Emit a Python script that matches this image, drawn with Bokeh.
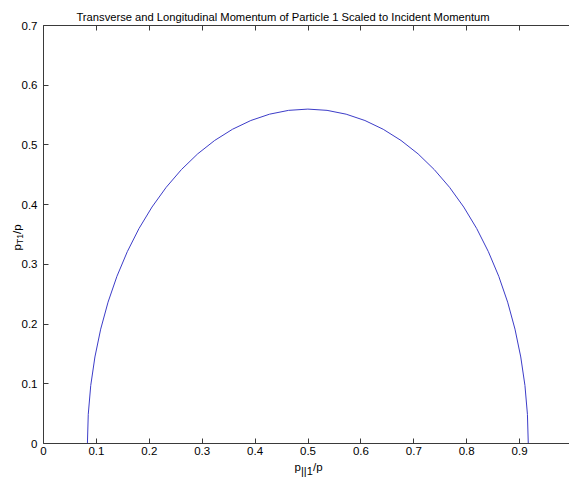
from bokeh.plotting import figure
from bokeh.models import Label, LinearAxis, FixedTicker, Range1d
from bokeh.embed import file_html
from bokeh.resources import INLINE

# Longitudinal momentum of particle 1 / p
p_par = [0.0830, 0.0846, 0.0893, 0.0972, 0.1081, 0.1220, 0.1388, 0.1584, 0.1805,
         0.2051, 0.2319, 0.2607, 0.2914, 0.3236, 0.3572, 0.3919, 0.4273, 0.4634,
         0.4997, 0.5360, 0.5721, 0.6076, 0.6422, 0.6758, 0.7081, 0.7387, 0.7676,
         0.7944, 0.8189, 0.8410, 0.8606, 0.8774, 0.8913, 0.9022, 0.9101, 0.9148,
         0.9164]
# Transverse momentum of particle 1 / p
p_trans = [0.0000, 0.0488, 0.0972, 0.1449, 0.1915, 0.2367, 0.2800, 0.3212, 0.3600,
           0.3960, 0.4290, 0.4587, 0.4850, 0.5075, 0.5262, 0.5409, 0.5515, 0.5579,
           0.5600, 0.5579, 0.5515, 0.5409, 0.5262, 0.5075, 0.4850, 0.4587, 0.4290,
           0.3960, 0.3600, 0.3212, 0.2800, 0.2367, 0.1915, 0.1449, 0.0972, 0.0488,
           0.0000]

x_ticks = [0.0, 0.1, 0.2, 0.3, 0.4, 0.5, 0.6, 0.7, 0.8, 0.9]
x_tick_labels = ["0", "0.1", "0.2", "0.3", "0.4", "0.5", "0.6", "0.7", "0.8", "0.9"]
y_ticks = [0.0, 0.1, 0.2, 0.3, 0.4, 0.5, 0.6, 0.7]
y_tick_labels = ["0", "0.1", "0.2", "0.3", "0.4", "0.5", "0.6", "0.7"]

title_text = "Transverse and Longitudinal Momentum of Particle 1 Scaled to Incident Momentum"

FONT = "Liberation Sans"
AX = "#3a3a3a"
TICK_FS = "11.5px"

W, H = 569, 482
# axes box in canvas pixels: x=0 at 43, 529 px per unit; y=0 at 443, 0.7 at 25
X0, XS = 43.0, 529.0
Y0, YS = 443.0, (443.0 - 25.0) / 0.7

x_lo, x_hi = -X0 / XS, (W - X0) / XS
y_lo, y_hi = -(H - Y0) / YS, Y0 / YS
box_right = x_hi

p = figure(width=W, height=H, output_backend="svg", toolbar_location=None,
           x_range=Range1d(x_lo, x_hi), y_range=Range1d(y_lo, y_hi),
           x_axis_location=None, y_axis_location=None,
           min_border=0, min_border_left=0, min_border_right=0,
           min_border_top=0, min_border_bottom=0)
p.title.visible = False
p.grid.visible = False
p.outline_line_color = None
p.background_fill_color = "white"
p.border_fill_color = "white"


def style(ax):
    ax.axis_line_color = AX
    ax.axis_line_width = 1
    ax.major_tick_line_color = AX
    ax.major_tick_in = 5
    ax.major_tick_out = 0
    ax.minor_tick_line_color = None
    ax.major_label_text_font = FONT
    ax.major_label_text_font_size = TICK_FS
    ax.major_label_text_color = "black"


xb = LinearAxis(ticker=FixedTicker(ticks=x_ticks), fixed_location=0.0,
                bounds=(0.0, box_right),
                major_label_overrides=dict(zip(x_ticks, x_tick_labels)))
style(xb)
xb.major_label_standoff = 3
p.add_layout(xb, "below")

xt = LinearAxis(ticker=FixedTicker(ticks=x_ticks), fixed_location=0.7,
                bounds=(0.0, box_right),
                major_label_overrides={t: "" for t in x_ticks})
style(xt)
xt.major_label_text_font_size = "1px"
xt.major_label_standoff = 0
p.add_layout(xt, "above")

yl = LinearAxis(ticker=FixedTicker(ticks=y_ticks), fixed_location=0.0,
                bounds=(0.0, 0.7),
                major_label_overrides=dict(zip(y_ticks, y_tick_labels)))
style(yl)
yl.major_label_standoff = 6
p.add_layout(yl, "left")

p.line(p_par, p_trans, line_color="#3c3cc8", line_width=1)


def lab(text, cx, cy, size, align="left", angle=0):
    # cx, cy: canvas pixels (from top-left); frame covers whole canvas
    p.add_layout(Label(x=cx, y=H - cy, x_units="screen", y_units="screen",
                       text=text, text_font=FONT, text_font_size=size,
                       text_color="black", text_align=align,
                       text_baseline="alphabetic", angle=angle,
                       angle_units="deg"))


# title
lab(title_text, 282.5, 16, "11.2px", align="center")

# x-axis label  p_{||1}/p
lab("p", 294, 466, "11.5px")
lab("||1", 300.5, 470, "11px")
lab("/p", 312.5, 466, "11.5px")

# y-axis label  p_{T1}/p (rotated)
lab("p", 16.5, 250, "11.5px", angle=90)
lab("T1", 19.5, 243.5, "8.5px", angle=90)
lab("/p", 16.5, 233.5, "11.5px", angle=90)

open("out.html", "w").write(file_html(p, INLINE))
